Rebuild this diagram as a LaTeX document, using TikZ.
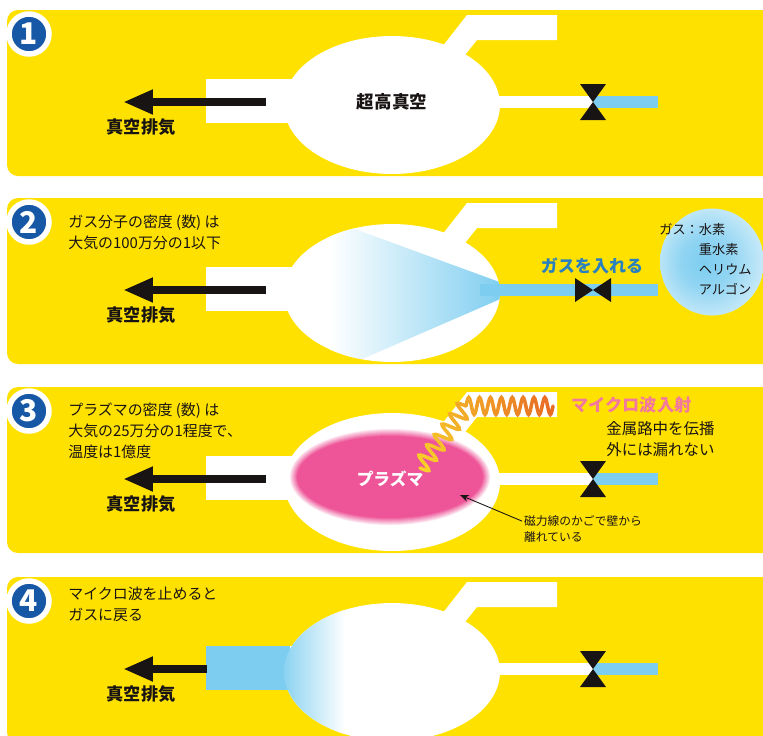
\documentclass[tikz,border=0pt]{standalone}
\usepackage{fontspec}
\setmainfont{Noto Sans CJK JP}
\usepackage{tikz}
\usetikzlibrary{arrows.meta,shapes.geometric}

\definecolor{panelyellow}{RGB}{255,225,0}
\definecolor{pipeblue}{RGB}{125,205,240}
\definecolor{numblue}{RGB}{22,88,165}
\definecolor{gasblue}{RGB}{40,128,190}
\definecolor{plasmapink}{RGB}{238,85,152}
\definecolor{wavepink}{RGB}{242,120,160}
\definecolor{coilyellow}{RGB}{248,208,40}
\definecolor{coilorange}{RGB}{232,108,36}
\definecolor{inkblack}{RGB}{25,20,20}

% soft blue glow for the gas bottle
\pgfdeclareradialshading{gasglow}{\pgfpoint{-4bp}{0bp}}{color(0bp)=(pipeblue); color(12bp)=(pipeblue!85); color(42bp)=(white); color(50bp)=(white)}

\tikzset{
  panel/.style={fill=panelyellow, rounded corners=0.22cm},
  chamber/.style={ellipse, fill=white, minimum width=4.32cm, minimum height=2.76cm, inner sep=0pt},
  numdisk/.style={circle, fill=numblue, draw=white, line width=0.11cm, minimum size=0.8cm,
    inner sep=0pt, text=white, font=\bfseries\fontsize{17}{17}\selectfont},
  exhaust/.style={draw=inkblack, line width=0.17cm, -{Triangle[length=0.6cm, width=0.46cm]}},
  exlabel/.style={font=\bfseries\fontsize{9.8}{11}\selectfont, text=inkblack, inner sep=0pt},
  desc/.style={font=\fontsize{8.5}{12}\selectfont, text=inkblack, align=left, anchor=west, inner sep=0pt},
  valve/.style={fill=inkblack},
  coil/.style={line width=0.07cm, line cap=round},
}

\begin{document}
\begin{tikzpicture}[x=0.02cm, y=-0.02cm]
\useasboundingbox (0,0) rectangle (763,735);
\clip (0,0) rectangle (763,735);
\fill[white] (0,0) rectangle (763,735);

% the four panels: chamber, ports and pipes
\foreach \n/\t in {1/10,2/198,3/387,4/577}{
  \fill[panel] (7,\t) rectangle (820,{\t+166});
  % top port
  \fill[white] (424,{\t+60}) -- (467,{\t+5}) -- (557,{\t+5}) -- (557,{\t+30})
    -- (477,{\t+30}) -- (453,{\t+60}) -- cycle;
  % exhaust pipe and gas line
  \fill[white] (206,{\t+69}) rectangle (300,{\t+113});
  \fill[white] (480,{\t+86}) rectangle (593,{\t+98});
  \fill[pipeblue] (593,{\t+86}) rectangle (658,{\t+98});
  \node[chamber] (ch\n) at (392,{\t+95}) {};
  \node[numdisk] (num\n) at (29,{\t+24}) {\n};
  \node[exlabel] (ex\n) at (141,{\t+117}) {真空排気};
}

% closed valves
\foreach \n/\t in {1/10,3/387,4/577}{
  \fill[valve] (580,{\t+74}) -- (606,{\t+74}) -- (593,{\t+92}) -- cycle;
  \fill[valve] (580,{\t+110}) -- (606,{\t+110}) -- (593,{\t+92}) -- cycle;
}

% 1: ultra high vacuum
\node[font=\bfseries\fontsize{10}{12}\selectfont, text=inkblack] (uhv) at (392,102) {超高真空};

% 2: gas let in
\begin{scope}
  \clip (ch2.center) ellipse [x radius=2.16cm, y radius=1.38cm];
  \shade[left color=white, right color=pipeblue] (505,284) -- (330,220) -- (330,373) -- (505,297) -- cycle;
\end{scope}
\fill[pipeblue] (480,284) rectangle (658,296);
\fill[valve] (575,278) -- (575,302) -- (593,290) -- cycle;
\fill[valve] (611,278) -- (611,302) -- (593,290) -- cycle;
\node[font=\bfseries\fontsize{9.7}{12}\selectfont, text=gasblue] (gasin) at (592,266) {ガスを入れる};
\node[desc] (dens2) at (68,232) {ガス分子の密度 (数) は\\大気の100万分の1以下};
\node[ellipse, minimum width=2.08cm, minimum height=2.14cm, shading=gasglow] (gas) at (712,262) {};
\node[desc, font=\fontsize{7.5}{11.4}\selectfont] (gaslist) at (659,259)
  {ガス：水素\\\hphantom{ガス：}重水素\\\hphantom{ガス：}ヘリウム\\\hphantom{ガス：}アルゴン};

% 3: plasma held by the magnetic field
\foreach \i in {7,6,...,0}{
  \pgfmathsetmacro\p{100-\i*12}
  \pgfmathsetmacro\rx{(93+\i)*0.02}
  \pgfmathsetmacro\ry{(41+\i)*0.02}
  \fill[plasmapink!\p] (390,477) ellipse [x radius=\rx cm, y radius=\ry cm];
}
\node[font=\bfseries\fontsize{9.5}{12}\selectfont, text=white] (plasma) at (390,479) {プラズマ};

% microwave coil, yellow to orange
\begin{scope}[shift={(420,468)}, rotate=53.4]
  \foreach \k in {0,...,11}{
    \pgfmathsetmacro\mix{100-\k*3.6}
    \pgfmathsetmacro\a{\k*6.43}
    \pgfmathsetmacro\b{(\k+1)*6.43}
    \draw[coil, coilyellow!\mix!coilorange] plot[domain=\a:\b, samples=7, smooth] (\x,{8.5*sin(\x*27.97)});
  }
\end{scope}
\begin{scope}[shift={(466,406)}]
  \foreach \k in {0,...,15}{
    \pgfmathsetmacro\mix{57-\k*3.8}
    \pgfmathsetmacro\a{\k*5.4375}
    \pgfmathsetmacro\b{(\k+1)*5.4375}
    \draw[coil, coilyellow!\mix!coilorange] plot[domain=\a:\b, samples=7, smooth] (\x,{-8.5*sin(\x*33.1)});
  }
\end{scope}

\node[anchor=west, inner sep=0pt, font=\bfseries\fontsize{9.8}{12}\selectfont, text=wavepink] (mw) at (571,405) {マイクロ波入射};
\node[desc, font=\fontsize{8.8}{12}\selectfont] (guide) at (606,439) {金属路中を伝播\\外には漏れない};
\node[desc] (dens3) at (68,431) {プラズマの密度 (数) は\\大気の25万分の1程度で、\\温度は1億度};

\node[desc, font=\fontsize{6.7}{9.5}\selectfont, inner sep=1pt] (cage) at (522,529) {磁力線のかごで壁から\\離れている};
\coordinate (edge) at (460,495);
\draw[inkblack, line width=0.5pt, -{Stealth[length=5pt, width=4pt]}] ([yshift=4.5pt]cage.west) -- (edge);

% 4: back to gas
\fill[pipeblue] (206,646) rectangle (290,690);
\begin{scope}
  \clip (ch4.center) ellipse [x radius=2.16cm, y radius=1.38cm];
  \shade[left color=pipeblue!90, right color=white] (283,600) rectangle (345,745);
\end{scope}
\node[desc] (stop4) at (68,604) {マイクロ波を止めると\\ガスに戻る};

% vacuum pumping arrows
\foreach \n/\t/\s in {1/10/266,2/198/266,3/387/266,4/577/207}{
  \coordinate (pipe\n) at (\s,{\t+92});
  \coordinate (pump\n) at (123,{\t+92});
  \draw[exhaust] (pipe\n) -- (pump\n);
}
\end{tikzpicture}
\end{document}
